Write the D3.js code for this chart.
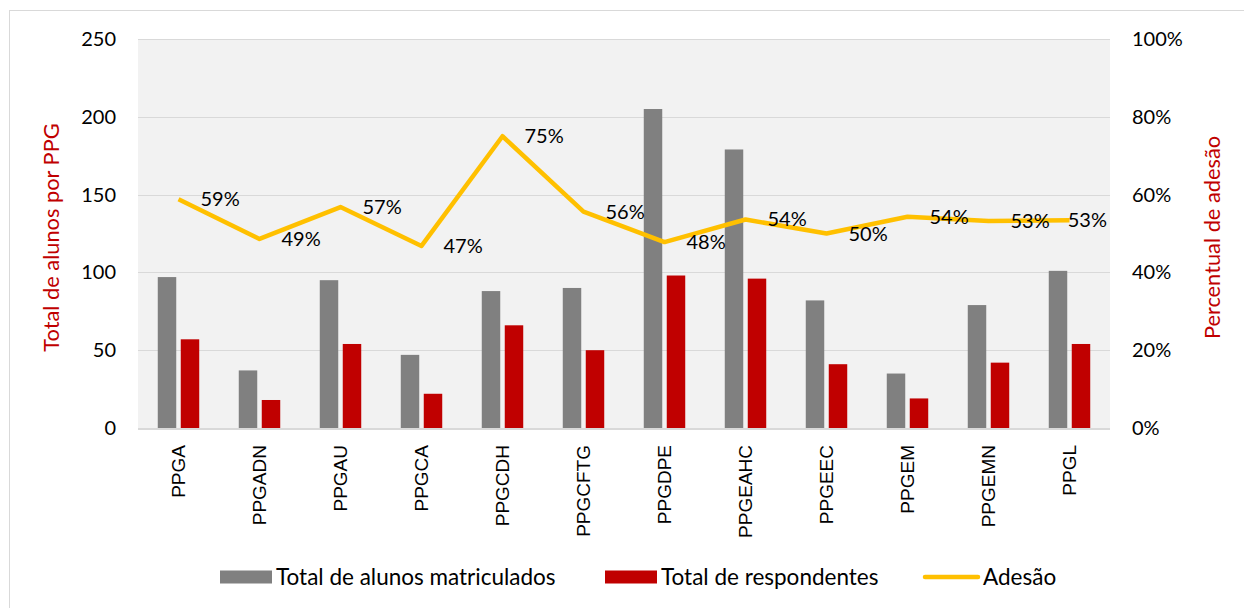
<!DOCTYPE html>
<html lang="pt">
<head>
    <meta charset="UTF-8">
    <title>Adesão por PPG</title>
    <script type="text/javascript" src="https://d3js.org/d3.v7.min.js"></script>
    <style>
        body { margin: 0; background: #fff; }
        text { font-family: Lato, "Liberation Sans", sans-serif; }
    </style>
</head>
<body>
<svg class="adesao"></svg>

<script type="text/javascript">

    const width = 1244;
    const height = 608;

    // dados
    const programas = ["PPGA", "PPGADN", "PPGAU", "PPGCA", "PPGCDH", "PPGCFTG",
        "PPGDPE", "PPGEAHC", "PPGEEC", "PPGEM", "PPGEMN", "PPGL"];
    const matriculados = [97, 37, 95, 47, 88, 90, 205, 179, 82, 35, 79, 101];
    const respondentes = [57, 18, 54, 22, 66, 50, 98, 96, 41, 19, 42, 54];
    const adesao = [0.588, 0.486, 0.568, 0.468, 0.75, 0.556, 0.478, 0.536, 0.50, 0.543, 0.532, 0.534];
    const ticksEsq = [0, 50, 100, 150, 200, 250];
    const ticksDir = [0, 0.2, 0.4, 0.6, 0.8, 1.0];
    const series = ["Total de alunos matriculados", "Total de respondentes", "Adesão"];

    const cores = {gray: "#808080", red: "#C00000", line: "#FFC000"};

    let plot = {left: 138, right: 1110, top: 39, bottom: 428};

    let svg = d3.select(".adesao")
        .attr("width", width)
        .attr("height", height);

    // borda da área do gráfico
    svg.append("rect")
        .attr("x", 9.5).attr("y", 10.5)
        .attr("width", 1400).attr("height", 800)
        .attr("fill", "none")
        .attr("stroke", "#D9D9D9");

    let x0 = d3.scaleBand()
        .domain(programas)
        .range([plot.left, plot.right])
        .paddingInner(0.488)
        .paddingOuter(0.244);

    let x1 = d3.scaleBand()
        .domain([0, 1])
        .range([0, x0.bandwidth()])
        .paddingInner(0.196);

    let yEsq = d3.scaleLinear().domain([0, 250]).range([plot.bottom, plot.top]);
    let yDir = d3.scaleLinear().domain([0, 1]).range([plot.bottom, plot.top]);

    svg.append("rect")
        .attr("x", plot.left).attr("y", plot.top)
        .attr("width", plot.right - plot.left)
        .attr("height", plot.bottom - plot.top)
        .attr("fill", "#F2F2F2");

    // grade
    svg.append("g").selectAll("line").data(ticksEsq.slice(1)).enter().append("line")
        .attr("x1", plot.left).attr("x2", plot.right)
        .attr("y1", d => Math.round(yEsq(d)) + 0.5)
        .attr("y2", d => Math.round(yEsq(d)) + 0.5)
        .attr("stroke", "#D9D9D9");

    // eixo esquerdo
    let eixoEsq = svg.append("g")
        .attr("transform", "translate(" + (plot.left - 22) + ",0)")
        .call(d3.axisLeft(yEsq).tickValues(ticksEsq).tickSize(0).tickPadding(0));
    eixoEsq.select(".domain").remove();
    eixoEsq.selectAll("text").attr("font-size", 20).attr("fill", "#000")
        .style("font-family", "Lato, sans-serif");

    // eixo direito
    let eixoDir = svg.append("g")
        .attr("transform", "translate(" + (plot.right + 22) + ",0)")
        .call(d3.axisRight(yDir).tickValues(ticksDir).tickSize(0).tickPadding(0)
            .tickFormat(d3.format(".0%")));
    eixoDir.select(".domain").remove();
    eixoDir.selectAll("text").attr("font-size", 20).attr("fill", "#000")
        .style("font-family", "Lato, sans-serif");

    // barras
    let grupos = svg.append("g").selectAll("g").data(programas).enter().append("g")
        .attr("transform", d => "translate(" + x0(d) + ",0)");

    grupos.append("rect")
        .attr("x", x1(0))
        .attr("width", x1.bandwidth())
        .attr("y", (d, i) => yEsq(matriculados[i]))
        .attr("height", (d, i) => plot.bottom - yEsq(matriculados[i]))
        .attr("fill", cores.gray);

    grupos.append("rect")
        .attr("x", x1(1))
        .attr("width", x1.bandwidth())
        .attr("y", (d, i) => yEsq(respondentes[i]))
        .attr("height", (d, i) => plot.bottom - yEsq(respondentes[i]))
        .attr("fill", cores.red);

    // linha de base
    svg.append("line")
        .attr("x1", plot.left).attr("x2", plot.right)
        .attr("y1", plot.bottom + 1).attr("y2", plot.bottom + 1)
        .attr("stroke", "#D9D9D9").attr("stroke-width", 2);

    // eixo x
    let eixoX = svg.append("g")
        .attr("transform", "translate(0," + plot.bottom + ")")
        .call(d3.axisBottom(x0).tickSize(0).tickPadding(0));
    eixoX.select(".domain").remove();
    eixoX.selectAll("text")
        .attr("transform", "rotate(-90)")
        .attr("x", -17).attr("y", 0).attr("dy", "0.35em")
        .attr("text-anchor", "end")
        .attr("font-size", 19).attr("fill", "#000")
        .style("font-family", "'Liberation Sans', Arial, sans-serif");

    // linha de adesão
    let cx = d => x0(d) + x0.bandwidth() / 2;
    let linha = d3.line()
        .x(d => cx(d))
        .y((d, i) => yDir(adesao[i]));

    svg.append("path")
        .datum(programas)
        .attr("d", linha)
        .attr("fill", "none")
        .attr("stroke", cores.line)
        .attr("stroke-width", 4.5)
        .attr("stroke-linejoin", "round");

    // rótulos de dados
    svg.append("g").selectAll("text").data(programas).enter().append("text")
        .attr("y", (d, i) => yDir(adesao[i]))
        .attr("dy", "0.35em")
        .attr("font-size", 20)
        .text((d, i) => d3.format(".0%")(adesao[i]))
        .attr("x", function (d) {
            let w = this.getComputedTextLength();
            return Math.min(cx(d) + 22, plot.right - w - 3);
        });

    // títulos dos eixos
    let meio = (plot.top + plot.bottom) / 2 + 4;
    svg.append("text")
        .attr("transform", "translate(51," + meio + ") rotate(-90)")
        .attr("text-anchor", "middle").attr("dy", "0.35em")
        .attr("font-size", 21.8).attr("fill", "#C00000")
        .text("Total de alunos por PPG");

    svg.append("text")
        .attr("transform", "translate(1212," + meio + ") rotate(-90)")
        .attr("text-anchor", "middle").attr("dy", "0.35em")
        .attr("font-size", 21.8).attr("fill", "#C00000")
        .text("Percentual de adesão");

    // legenda
    let legenda = svg.append("g");
    let legX = [220, 605, 925];
    series.forEach(function (s, i) {
        let g = legenda.append("g").attr("transform", "translate(" + legX[i] + ",577)");
        if (i < 2) {
            g.append("rect")
                .attr("x", 0).attr("y", -6.5)
                .attr("width", 52).attr("height", 13)
                .attr("fill", i === 0 ? cores.gray : cores.red);
        } else {
            g.append("line")
                .attr("x1", 0).attr("x2", 53)
                .attr("stroke", cores.line).attr("stroke-width", 4.5)
                .attr("stroke-linecap", "round");
        }
        g.append("text")
            .attr("x", i < 2 ? 56 : 58)
            .attr("dy", "0.35em")
            .attr("font-size", 22.5)
            .text(s);
    });

</script>

</body>
</html>
